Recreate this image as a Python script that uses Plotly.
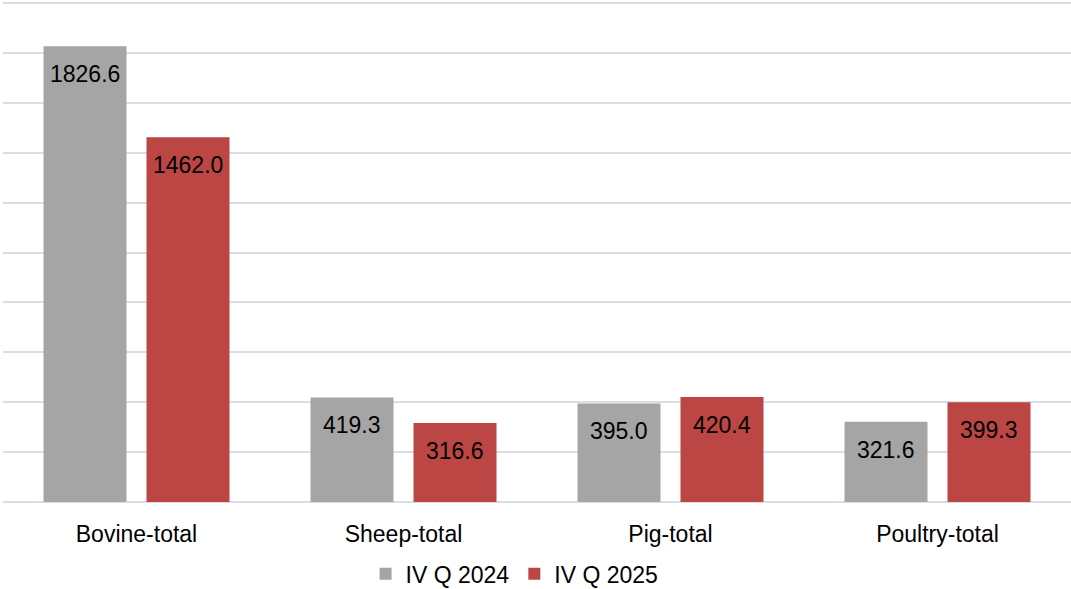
import plotly.graph_objects as go

categories = ["Bovine-total", "Sheep-total", "Pig-total", "Poultry-total"]
series_names = ["IV Q 2024", "IV Q 2025"]
values_2024 = [1826.6, 419.3, 395.0, 321.6]
values_2025 = [1462.0, 316.6, 420.4, 399.3]
colors = ["#A5A5A5", "#BB4643"]

FONT = "Liberation Sans, Arial, sans-serif"
fig = go.Figure()
for name, vals, col in zip(series_names, [values_2024, values_2025], colors):
    fig.add_trace(go.Bar(
        x=categories, y=vals, name=name,
        marker=dict(color=col, line=dict(width=0)),
    ))

# data labels near the top inside each bar
slot_px = 51.5
for i, vals in enumerate([values_2024, values_2025]):
    shift = -slot_px if i == 0 else slot_px
    for c, v in zip(categories, vals):
        fig.add_annotation(
            x=c, y=v, xref="x", yref="y", text=f"{v:.1f}",
            showarrow=False, yanchor="top", yshift=-13, xshift=shift,
            font=dict(size=23, color="#000000", family=FONT),
        )

fig.update_layout(
    width=1071, height=589,
    margin=dict(l=3, r=0, t=0, b=87, autoexpand=False),
    paper_bgcolor="white", plot_bgcolor="white",
    barmode="group", bargap=0.2285, bargroupgap=0.194,
    font=dict(family=FONT, size=23, color="#000000"),
    showlegend=True,
    legend=dict(orientation="h", x=0.479, xanchor="center", y=-0.1, yanchor="top",
                font=dict(size=23), itemwidth=30, tracegroupgap=0),
    xaxis=dict(showgrid=False, showline=False, ticks="", tickfont=dict(size=23),
               automargin=False, ticklabelstandoff=16),
    yaxis=dict(range=[0, 2012], tickvals=[0, 200, 400, 600, 800, 1000, 1200, 1400, 1600, 1800, 2000],
               showticklabels=False, showgrid=True, automargin=False,
               gridcolor="#D9DDE5", gridwidth=2, zeroline=True, zerolinecolor="#D9DDE5",
               zerolinewidth=2),
)
fig.write_html("out.html", config={"displayModeBar": False},
               post_script="document.body.style.margin='0';")
